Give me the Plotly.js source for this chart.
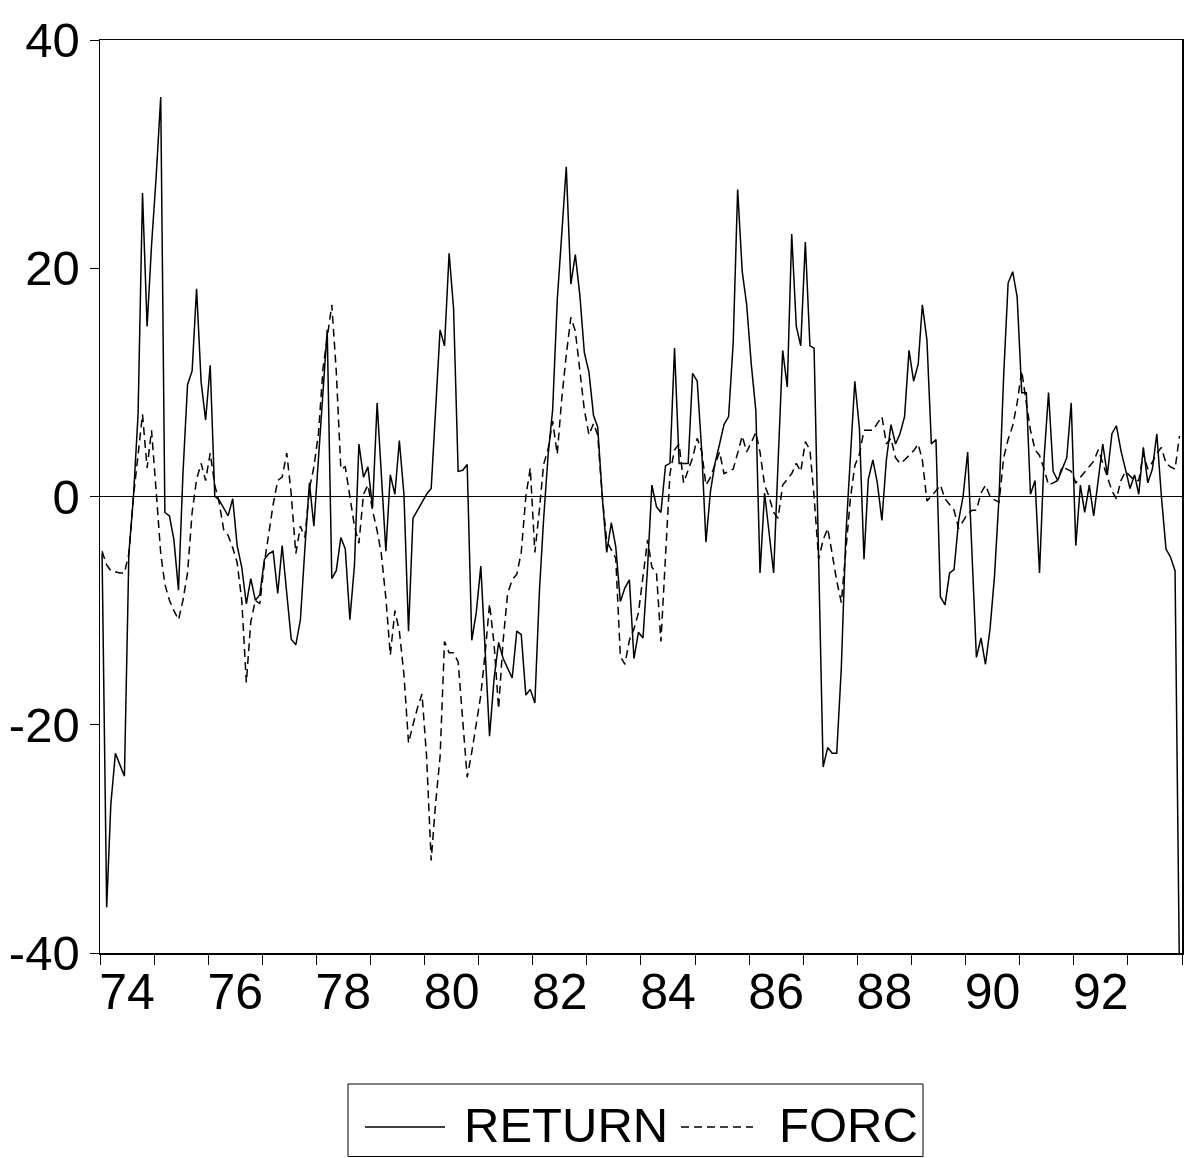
<!DOCTYPE html>
<html><head><meta charset="utf-8">
<script src="https://cdn.plot.ly/plotly-3.0.1.min.js"></script>
<style>body{margin:0;background:#fff}#chart{width:1188px;height:1158px}</style>
</head><body><div id="chart"></div>
<script>
const startYear = 1974;
const seriesNames = ['RETURN', 'FORC'];
const returnSeries = [
  -5, -36, -27, -22.5, -23.5, -24.5, -5, 0, 7.2, 26.6, 14.9, 22,
  28, 35, -1.4, -1.7, -3.8, -8.2, 2, 9.8, 11, 18.2, 10, 6.7,
  11.5, 0, -0.3, -1, -1.7, -0.2, -4.3, -6.2, -9.4, -7.2, -9.1, -8.6,
  -5.5, -5, -4.8, -8.5, -4.3, -8.5, -12.5, -13, -10.8, -4.6, 1.2, -2.6,
  3.6, 9.4, 14.6, -7.2, -6.5, -3.6, -4.6, -10.8, -6, 4.6, 1.7, 2.6,
  -1, 8.2, 2, -4.8, 1.9, 0.2, 4.9, 0.2, -11.8, -1.9, -1.2, -0.5,
  0.2, 0.7, 8, 14.6, 13.2, 21.3, 16.5, 2.2, 2.3, 2.8, -12.6, -10.2,
  -6.1, -13.5, -21, -15.9, -12.8, -14.2, -15, -15.9, -11.8, -12.1, -17.4, -16.9,
  -18.1, -8.2, -2, 3.7, 7.6, 17.2, 22.9, 28.9, 18.6, 21.2, 17.6, 12.6,
  10.9, 7.1, 6.1, 0, -4.9, -2.3, -4.4, -9.2, -8, -7.3, -14.2, -11.9,
  -12.4, -6.2, 1, -0.9, -1.4, 2.7, 2.9, 13, 2.9, 2.9, 2.9, 10.8,
  10.1, 3.9, -4, 0.5, 2.9, 4.6, 6.3, 7, 13.5, 26.9, 19.7, 16.8,
  11.6, 7.5, -6.7, 0.3, -3, -6.7, 3, 12.8, 9.6, 23, 14.9, 13.2,
  22.3, 13.2, 13, -6.9, -23.7, -22, -22.5, -22.5, -15, -3.5, 3.2, 10.1,
  6, -5.5, 1.5, 3.2, 1.2, -2.1, 3.2, 6.3, 4.6, 5.5, 7, 12.8,
  10.1, 11.6, 16.8, 13.7, 4.6, 5, -8.8, -9.5, -6.7, -6.4, -2.1, 0,
  3.9, -5.5, -14.1, -12.4, -14.7, -11.6, -7, 0, 10.6, 18.7, 19.7, 17.5,
  9.1, 9.1, 0.2, 1.4, -6.7, 3.4, 9.1, 2.2, 1.4, 2.4, 3.4, 8.2,
  -4.3, 1, -1.4, 1, -1.7, 1.5, 4.6, 1.9, 5.5, 6.2, 4, 2.4,
  0.7, 1.9, 0.2, 4.3, 1.2, 2.4, 5.5, 0, -4.6, -5.3, -6.5, -42
];
const forcSeries = [
  -4.8, -6, -6.5, -6.6, -6.7, -6.7, -5, 0, 3.4, 7.2, 2.5, 5.8,
  0.5, -5, -7.7, -9.1, -10, -10.8, -9.1, -6.7, -1.4, 1.5, 2.9, 1.4,
  3.8, 1, -0.5, -2.9, -3.4, -4.5, -5.8, -9.1, -16.3, -11, -9.1, -9.4,
  -5.8, -3, -0.7, 1.4, 1.7, 3.8, 0.2, -5, -2.6, -3.6, 0.7, 2.6,
  5.5, 11.3, 14, 16.8, 11, 2.4, 2.6, 0, -2.6, -4.1, 0.2, 1,
  -1.2, -3, -5, -8.9, -13.9, -10, -11.8, -15.6, -21.6, -20, -18.5, -17.3,
  -22.8, -31.9, -27, -22.8, -12.7, -13.7, -13.7, -14.5, -19.3, -24.6, -22.4, -20,
  -17.4, -13.5, -9.4, -13, -18.6, -12.6, -8.5, -7.3, -6.8, -4.9, 0, 2.5,
  -4.9, -1.1, 2.8, 4.2, 6.6, 3.7, 8.5, 12.4, 15.7, 14.5, 10.9, 7.6,
  5.4, 6.4, 5.4, 0, -3.9, -4.7, -5.4, -14, -14.7, -12.6, -11.6, -10.2,
  -7.1, -3.8, -6.2, -6.7, -12.7, -4.7, 2, 4.1, 4.6, 1.2, 2.3, 3.4,
  5.1, 3.9, 1, 1.7, 2.8, 3.9, 2, 2.2, 2.4, 3.8, 5.3, 3.9,
  4.7, 5.6, 3.9, 1, 0, -1.4, -1.9, 1, 1.5, 2, 2.9, 2.2,
  4.8, 4.1, 0, -5.5, -3.8, -2.8, -5, -7.4, -9.3, -5, -0.2, 2.7,
  3.7, 5.8, 5.8, 5.8, 6.4, 7, 4.6, 5.1, 3.4, 2.9, 3.2, 3.6,
  4, 4.6, 3.2, -0.4, 0, 0.5, 1, -0.2, -0.7, -1.2, -2.8, -2.1,
  -1.5, -1.2, -1.2, 0.3, 1, 0, -0.3, -0.5, 3.4, 5, 6.2, 8.2,
  11, 8.2, 5.8, 4.1, 3.6, 2.4, 1, 1.2, 1.4, 2.6, 2.4, 2.2,
  1.2, 1.7, 2.2, 2.6, 3.1, 4.1, 2.9, 1.7, 0.5, -0.2, 1.4, 2.2,
  1.8, 1.4, 1.4, 3.8, 2.4, 3, 3.8, 4.3, 2.9, 2.6, 2.4, 5.3
];
const xTickLabels = ['74', '76', '78', '80', '82', '84', '86', '88', '90', '92'];
const yTickValues = [-40, -20, 0, 20, 40];
const yTickLabels = ['-40', '-20', '0', '20', '40'];

const months = returnSeries.map((_, i) => {
  const y = startYear + Math.floor(i / 12);
  const m = (i % 12) + 1;
  return y + '-' + String(m).padStart(2, '0') + '-15';
});
const labelDates = xTickLabels.map(t => '19' + t + '-07-02');

const W = 1188, H = 1158;
const M = {l: 100, r: 6, t: 40, b: 205};
const px = x => (x - M.l) / (W - M.l - M.r);
const py = y => (H - M.b - y) / (H - M.t - M.b);
const font = 'Liberation Sans, Arial, sans-serif';
const dashStyle = '8px,5px';

const traces = [
  {x: months, y: returnSeries, name: seriesNames[0], type: 'scatter', mode: 'lines',
   line: {color: '#000', width: 1.5}},
  {x: months, y: forcSeries, name: seriesNames[1], type: 'scatter', mode: 'lines',
   line: {color: '#000', width: 1.5, dash: dashStyle}}
];

const layout = {
  width: W, height: H, margin: M, showlegend: false,
  paper_bgcolor: '#fff', plot_bgcolor: '#fff',
  font: {family: font, color: '#000'},
  xaxis: {
    type: 'date', range: ['1974-01-01', '1994-01-01'],
    tickmode: 'array', tickvals: labelDates, ticktext: xTickLabels,
    ticks: '', ticklabelstandoff: -6,
    tickfont: {size: 50, family: font, color: '#000'},
    showline: true, linecolor: '#000', linewidth: 1.5, mirror: true,
    showgrid: false, zeroline: false,
    minor: {tick0: '1974-01-01', dtick: 'M12', ticks: 'outside', ticklen: 10,
            tickwidth: 1, tickcolor: '#000', showgrid: false}
  },
  yaxis: {
    range: [-40, 40], tickmode: 'array', tickvals: yTickValues, ticktext: yTickLabels,
    ticks: 'outside', ticklen: 9, tickwidth: 1, tickcolor: '#000',
    tickfont: {size: 49, family: font, color: '#000'},
    showline: true, linecolor: '#000', linewidth: 1.5, mirror: true,
    showgrid: false, zeroline: true, zerolinecolor: '#000', zerolinewidth: 1
  },
  shapes: [
    {type: 'rect', xref: 'paper', yref: 'paper', x0: px(348), x1: px(923), y0: py(1084), y1: py(1156.5),
     line: {color: '#000', width: 1}, fillcolor: 'rgba(0,0,0,0)'},
    {type: 'line', xref: 'paper', yref: 'paper', x0: px(365), x1: px(445), y0: py(1127), y1: py(1127),
     line: {color: '#000', width: 1.5}},
    {type: 'line', xref: 'paper', yref: 'paper', x0: px(681), x1: px(753), y0: py(1127), y1: py(1127),
     line: {color: '#000', width: 1.5, dash: dashStyle}}
  ],
  annotations: [
    {xref: 'paper', yref: 'paper', x: px(462), y: py(1125), xanchor: 'left', yanchor: 'middle',
     text: seriesNames[0], showarrow: false, font: {size: 49, family: font, color: '#000'}},
    {xref: 'paper', yref: 'paper', x: px(777), y: py(1125), xanchor: 'left', yanchor: 'middle',
     text: seriesNames[1], showarrow: false, font: {size: 49, family: font, color: '#000'}}
  ]
};

Plotly.newPlot('chart', traces, layout, {displayModeBar: false, staticPlot: true});
</script></body></html>
